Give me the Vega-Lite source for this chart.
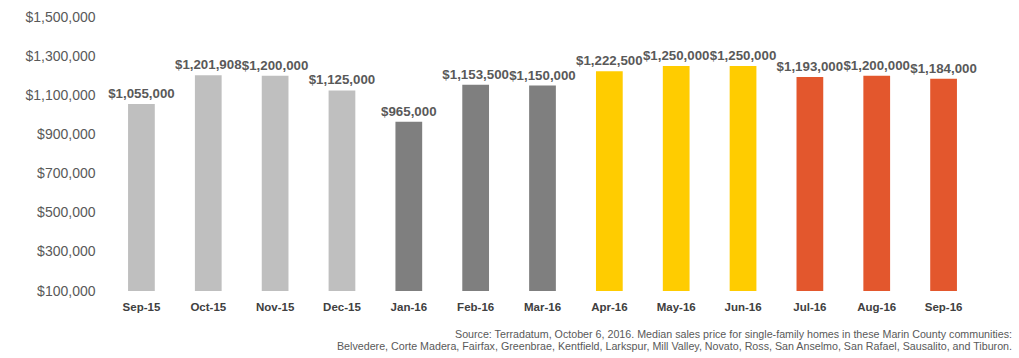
{
  "$schema": "https://vega.github.io/schema/vega-lite/v6.json",
  "width": 869,
  "height": 274,
  "autosize": {"type": "none"},
  "padding": {"left": 108, "top": 17, "right": 42, "bottom": 67},
  "background": "white",
  "config": {"view": {"stroke": null}, "font": "Liberation Sans"},
  "title": {
    "text": ["Source: Terradatum, October 6, 2016. Median sales price for single-family homes in these Marin County communities:", "Belvedere, Corte Madera, Fairfax, Greenbrae, Kentfield, Larkspur, Mill Valley, Novato, Ross, San Anselmo, San Rafael, Sausalito, and Tiburon."],
    "orient": "bottom",
    "anchor": "end",
    "align": "right",
    "font": "Liberation Sans",
    "fontSize": 10.7,
    "fontWeight": "normal",
    "color": "#595959",
    "lineHeight": 12,
    "offset": 17,
    "dx": 35
  },
  "data": {
    "values": [
      {"month": "Sep-15", "price": 1055000, "group": "Q4-15"},
      {"month": "Oct-15", "price": 1201908, "group": "Q4-15"},
      {"month": "Nov-15", "price": 1200000, "group": "Q4-15"},
      {"month": "Dec-15", "price": 1125000, "group": "Q4-15"},
      {"month": "Jan-16", "price": 965000, "group": "Q1-16"},
      {"month": "Feb-16", "price": 1153500, "group": "Q1-16"},
      {"month": "Mar-16", "price": 1150000, "group": "Q1-16"},
      {"month": "Apr-16", "price": 1222500, "group": "Q2-16"},
      {"month": "May-16", "price": 1250000, "group": "Q2-16"},
      {"month": "Jun-16", "price": 1250000, "group": "Q2-16"},
      {"month": "Jul-16", "price": 1193000, "group": "Q3-16"},
      {"month": "Aug-16", "price": 1200000, "group": "Q3-16"},
      {"month": "Sep-16", "price": 1184000, "group": "Q3-16"}
    ]
  },
  "encoding": {
    "x": {
      "field": "month", "type": "nominal", "sort": null,
      "scale": {"paddingInner": 0.6, "paddingOuter": 0.3},
      "axis": {"title": null, "domain": false, "ticks": false, "labelAngle": 0, "labelPadding": 10, "labelFontWeight": "bold", "labelFontSize": 11.5, "labelColor": "#404040", "labelFont": "Liberation Sans"}
    },
    "y": {
      "field": "price", "type": "quantitative",
      "scale": {"domain": [100000, 1500000], "nice": false, "zero": false},
      "axis": {"title": null, "domain": false, "ticks": false, "grid": false, "values": [100000, 300000, 500000, 700000, 900000, 1100000, 1300000, 1500000], "format": "$,.0f", "labelPadding": 13, "labelFontSize": 14, "labelColor": "#595959", "labelFont": "Liberation Sans"}
    }
  },
  "layer": [
    {
      "mark": {"type": "bar", "clip": true},
      "encoding": {
        "color": {"field": "group", "type": "nominal", "legend": null, "scale": {"domain": ["Q4-15", "Q1-16", "Q2-16", "Q3-16"], "range": ["#BFBFBF", "#7F7F7F", "#FFCC00", "#E3572D"]}}
      }
    },
    {
      "mark": {"type": "text", "baseline": "bottom", "dy": -3, "fontWeight": "bold", "fontSize": 13.3, "color": "#595959", "font": "Liberation Sans"},
      "encoding": {
        "text": {"field": "price", "type": "quantitative", "format": "$,.0f"}
      }
    }
  ]
}
